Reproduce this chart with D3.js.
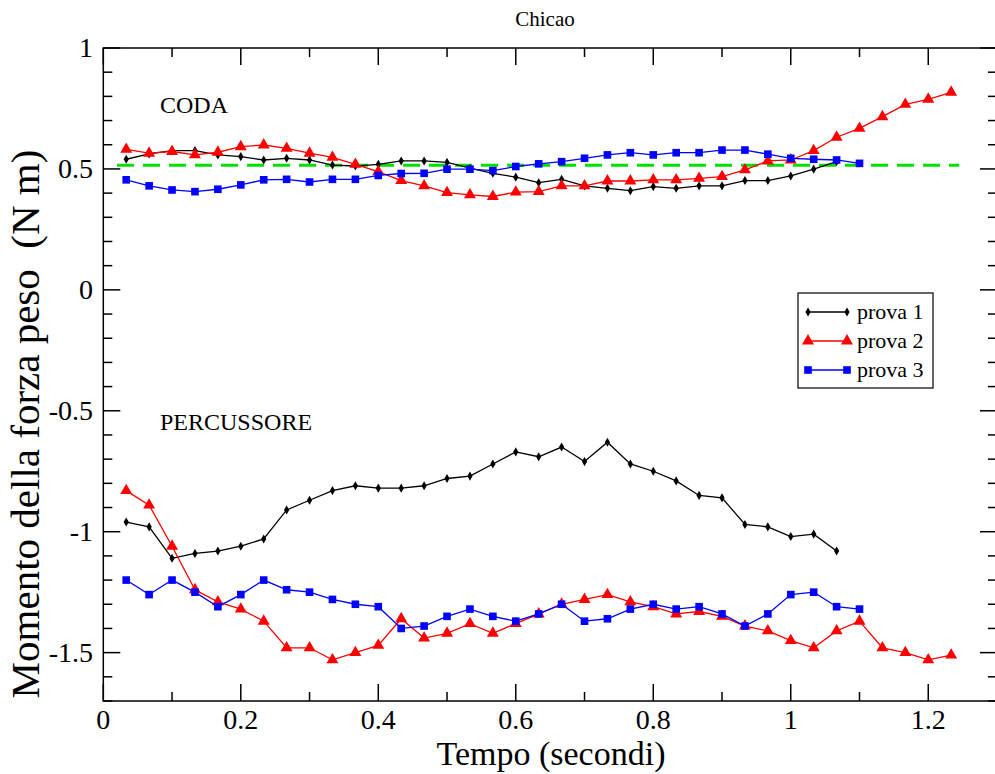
<!DOCTYPE html>
<html><head><meta charset="utf-8">
<script src="https://cdn.jsdelivr.net/npm/d3@7"></script>
<style>body{margin:0;background:#fff}svg{display:block}</style>
</head><body><div id="chart"></div>
<script>
const title = "Chicao";
const xLabel = "Tempo (secondi)";
const yLabel = "Momento della forza peso  (N m)";
const xTicks = [0, 0.2, 0.4, 0.6, 0.8, 1, 1.2];
const yTicks = [-1.5, -1, -0.5, 0, 0.5, 1];
const seriesNames = ["prova 1", "prova 2", "prova 3"];
const refLevel = 0.515;
const refRange = [0.02, 1.245];
// sample index k -> time k/30 s
const coda1 = [0.54,0.562,0.576,0.576,0.558,0.551,0.537,0.544,0.537,0.516,0.512,0.519,0.533,0.533,0.527,0.503,0.482,0.466,0.443,0.457,0.43,0.42,0.41,0.427,0.42,0.43,0.43,0.452,0.452,0.471,0.499,0.53];
const coda2 = [0.581,0.565,0.572,0.558,0.569,0.592,0.599,0.585,0.565,0.548,0.519,0.489,0.452,0.43,0.402,0.393,0.386,0.404,0.406,0.43,0.43,0.45,0.45,0.455,0.455,0.461,0.468,0.496,0.533,0.537,0.576,0.631,0.668,0.716,0.767,0.788,0.817];
const coda3 = [0.455,0.43,0.413,0.406,0.416,0.434,0.455,0.457,0.446,0.457,0.457,0.473,0.481,0.482,0.499,0.499,0.493,0.51,0.521,0.53,0.544,0.558,0.567,0.558,0.567,0.567,0.578,0.578,0.561,0.544,0.54,0.537,0.523];
const perc1 = [-0.96,-0.98,-1.11,-1.09,-1.08,-1.06,-1.03,-0.91,-0.87,-0.83,-0.81,-0.82,-0.82,-0.81,-0.78,-0.77,-0.72,-0.67,-0.69,-0.65,-0.71,-0.63,-0.72,-0.75,-0.79,-0.85,-0.86,-0.97,-0.98,-1.02,-1.01,-1.08];
const perc2 = [-0.83,-0.89,-1.06,-1.24,-1.29,-1.32,-1.37,-1.48,-1.48,-1.53,-1.50,-1.47,-1.36,-1.44,-1.42,-1.38,-1.42,-1.38,-1.34,-1.30,-1.28,-1.26,-1.29,-1.31,-1.34,-1.33,-1.35,-1.39,-1.41,-1.45,-1.48,-1.41,-1.37,-1.48,-1.50,-1.53,-1.51];
const perc3 = [-1.20,-1.26,-1.20,-1.25,-1.31,-1.26,-1.20,-1.24,-1.25,-1.28,-1.30,-1.31,-1.40,-1.39,-1.35,-1.32,-1.35,-1.37,-1.34,-1.30,-1.37,-1.36,-1.32,-1.30,-1.32,-1.31,-1.34,-1.39,-1.34,-1.26,-1.25,-1.31,-1.32];
const annotations = [{text:"CODA", x:0.0825, y:0.732},{text:"PERCUSSORE", x:0.0825, y:-0.58}];

const FONT = "'Liberation Serif','Times New Roman',Times,serif";
const W = 995, H = 774;
const svg = d3.select("#chart").append("svg").attr("width", W).attr("height", H)
  .attr("font-family", FONT);
const x = d3.scaleLinear().domain([0, 1.3]).range([103.3, 997]);
const y = d3.scaleLinear().domain([-1.7, 1]).range([701, 48]);
const toPts = arr => arr.map((v, i) => [(i + 1) / 30, v]);

const colors = ["#000000", "#ff0000", "#0000ff"];
const groups = [[coda1, perc1], [coda2, perc2], [coda3, perc3]];

// frame
svg.append("rect").attr("x", x(0)).attr("y", y(1)).attr("width", x(1.3) - x(0)).attr("height", y(-1.7) - y(1))
  .attr("fill", "none").attr("stroke", "#000").attr("stroke-width", 1.5);

// ticks
const xMinor = d3.range(0, 1.31, 0.1).map(v => +v.toFixed(2));
const yMinor = d3.range(-1.7, 1.01, 0.1).map(v => +v.toFixed(2));
const isMajor = (v, arr) => arr.some(t => Math.abs(t - v) < 1e-6);
const tk = svg.append("g").attr("stroke", "#000").attr("stroke-width", 1.5);
xMinor.forEach(v => {
  const L = isMajor(v, xTicks) ? 17 : 9;
  tk.append("line").attr("x1", x(v)).attr("x2", x(v)).attr("y1", y(-1.7)).attr("y2", y(-1.7) - L);
  tk.append("line").attr("x1", x(v)).attr("x2", x(v)).attr("y1", y(1)).attr("y2", y(1) + L);
});
yMinor.forEach(v => {
  const L = isMajor(v, yTicks) ? 17 : 9;
  tk.append("line").attr("x1", x(0)).attr("x2", x(0) + L).attr("y1", y(v)).attr("y2", y(v));
  tk.append("line").attr("x1", x(1.3)).attr("x2", x(1.3) - L).attr("y1", y(v)).attr("y2", y(v));
});

// tick labels
const fmt = v => String(v);
svg.append("g").selectAll("text").data(xTicks).join("text")
  .attr("x", d => x(d)).attr("y", 729).attr("text-anchor", "middle").attr("font-size", 28).text(fmt);
svg.append("g").selectAll("text").data(yTicks).join("text")
  .attr("x", 93).attr("y", d => y(d) + 9).attr("text-anchor", "end").attr("font-size", 28).text(fmt);

// axis titles
svg.append("text").attr("x", 551).attr("y", 765).attr("text-anchor", "middle").attr("font-size", 34).text(xLabel);
svg.append("text").attr("transform", "translate(39,424) rotate(-90)").attr("text-anchor", "middle")
  .attr("font-size", 41).attr("xml:space", "preserve").style("white-space", "pre").text(yLabel);
svg.append("text").attr("x", 545).attr("y", 26).attr("text-anchor", "middle").attr("font-size", 21).text(title);

// reference dashed line
svg.append("line").attr("x1", x(refRange[0])).attr("x2", x(refRange[1])).attr("y1", y(refLevel)).attr("y2", y(refLevel))
  .attr("stroke", "#00e000").attr("stroke-width", 3).attr("stroke-dasharray", "17,9");

// annotations
svg.append("g").selectAll("text").data(annotations).join("text")
  .attr("x", d => x(d.x)).attr("y", d => y(d.y)).attr("font-size", 24).text(d => d.text);

const line = d3.line().x(d => x(d[0])).y(d => y(d[1]));
function marker(g, i, cx, cy) {
  if (i === 0) {
    g.append("path").attr("d", d3.symbol(d3.symbolDiamond, 24)()).attr("transform", `translate(${cx},${cy})`).attr("fill", "#000");
  } else if (i === 1) {
    g.append("path").attr("d", d3.symbol(d3.symbolTriangle, 62)()).attr("transform", `translate(${cx},${cy})`).attr("fill", "#ff0000");
  } else {
    g.append("path").attr("d", d3.symbol(d3.symbolSquare, 58)()).attr("transform", `translate(${cx},${cy})`).attr("fill", "#0000ff");
  }
}
groups.forEach((grp, i) => {
  grp.forEach(arr => {
    const pts = toPts(arr);
    const g = svg.append("g");
    g.append("path").datum(pts).attr("d", line).attr("fill", "none").attr("stroke", colors[i]).attr("stroke-width", 1.3);
    pts.forEach(p => marker(g, i, x(p[0]), y(p[1])));
  });
});

// legend
const lg = svg.append("g");
lg.append("rect").attr("x", 798).attr("y", 293).attr("width", 135).attr("height", 95).attr("fill", "#fff").attr("stroke", "#000").attr("stroke-width", 1.2);
seriesNames.forEach((n, i) => {
  const yy = 312 + i * 29;
  lg.append("line").attr("x1", 808).attr("x2", 847).attr("y1", yy).attr("y2", yy).attr("stroke", colors[i]).attr("stroke-width", 1.3);
  marker(lg, i, 808, yy); marker(lg, i, 847, yy);
  lg.append("text").attr("x", 857).attr("y", yy + 7).attr("font-size", 22).text(n);
});
</script></body></html>
